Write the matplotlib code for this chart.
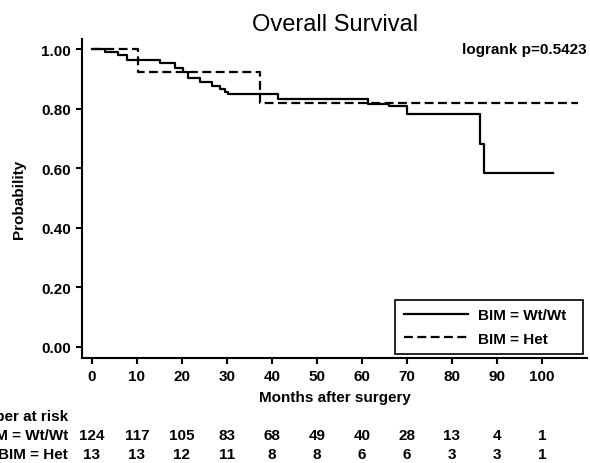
import matplotlib
matplotlib.use("Agg")
import matplotlib.pyplot as plt
import matplotlib.transforms as mtransforms

plt.rcParams['font.family'] = ['Liberation Sans', 'DejaVu Sans']

# Kaplan-Meier step data
wt_times = [0, 2.9, 5.8, 7.8, 15.1, 18.4, 20.2, 21.3, 24.0, 26.7, 28.4, 29.5, 30.2,
            41.3, 61.3, 66.0, 70.0, 86.2, 87.2, 102.5]
wt_surv = [1.000, 0.990, 0.980, 0.964, 0.953, 0.935, 0.922, 0.903, 0.890, 0.877, 0.866,
           0.857, 0.848, 0.834, 0.815, 0.808, 0.782, 0.681, 0.585, 0.585]
het_times = [0, 10.2, 37.4, 108]
het_surv = [1.000, 0.923, 0.819, 0.819]

x_ticks = [0, 10, 20, 30, 40, 50, 60, 70, 80, 90, 100]
y_ticks = [0.0, 0.2, 0.4, 0.6, 0.8, 1.0]
risk_wt = [124, 117, 105, 83, 68, 49, 40, 28, 13, 4, 1]
risk_het = [13, 13, 12, 11, 8, 8, 6, 6, 3, 3, 1]

W, H = 590, 464
fig = plt.figure(figsize=(W / 100, H / 100), dpi=100)
ax = fig.add_axes([82 / W, 1 - 359 / H, (587 - 82) / W, (359 - 40) / H])

ax.plot(wt_times, wt_surv, drawstyle='steps-post', color='black', lw=1.6,
        label='BIM = Wt/Wt  ')
ax.plot(het_times, het_surv, drawstyle='steps-post', color='black', lw=1.6,
        linestyle=(0, (4, 2)), label='BIM = Het')

ax.set_xlim(-2.2, 110)
ax.set_ylim(-0.037, 1.034)
ax.set_xticks(x_ticks)
ax.set_yticks(y_ticks)
ax.set_yticklabels([f"{v:.2f}" for v in y_ticks])
for s in ['top', 'right']:
    ax.spines[s].set_visible(False)
for s in ['left', 'bottom']:
    ax.spines[s].set_linewidth(1.5)
ax.tick_params(axis='both', direction='out', length=4, width=1.5,
               labelsize=11, pad=4)
for lab in ax.get_xticklabels() + ax.get_yticklabels():
    lab.set_fontweight('bold')

ax.set_ylabel('Probability', fontsize=11, fontweight='bold', labelpad=11)
ax.set_xlabel('Months after surgery', fontsize=11, fontweight='bold', labelpad=5)
fig.text(335 / W, 1 - 25 / H, 'Overall Survival', fontsize=17, ha='center',
         va='center')
ax.text(1.0, 1.0, 'logrank p=0.5423', transform=mtransforms.blended_transform_factory(
    ax.transAxes, ax.transData), ha='right', va='center', fontsize=11,
    fontweight='bold')

leg = ax.legend(loc='lower right', bbox_to_anchor=(583 / W, 1 - 355 / H),
                bbox_transform=fig.transFigure, borderaxespad=0, fancybox=False,
                edgecolor='black', handlelength=4.2, handletextpad=0.65,
                prop={'weight': 'bold', 'size': 11}, framealpha=1,
                borderpad=0.55, labelspacing=0.6)
leg.get_frame().set_linewidth(1.2)

# Number at risk table
tr = mtransforms.blended_transform_factory(ax.transData, fig.transFigure)
lx = 68 / W
fig.text(lx, 1 - 417 / H, 'Number at risk', ha='right', va='center',
         fontsize=11, fontweight='bold')
fig.text(lx, 1 - 436 / H, 'BIM = Wt/Wt', ha='right', va='center',
         fontsize=11, fontweight='bold')
fig.text(lx, 1 - 455 / H, 'BIM = Het', ha='right', va='center',
         fontsize=11, fontweight='bold')
for x, a, b in zip(x_ticks, risk_wt, risk_het):
    ax.text(x, 1 - 436 / H, str(a), transform=tr, ha='center', va='center',
            fontsize=11, fontweight='bold', clip_on=False)
    ax.text(x, 1 - 455 / H, str(b), transform=tr, ha='center', va='center',
            fontsize=11, fontweight='bold', clip_on=False)

fig.savefig('out.png', dpi=100)
